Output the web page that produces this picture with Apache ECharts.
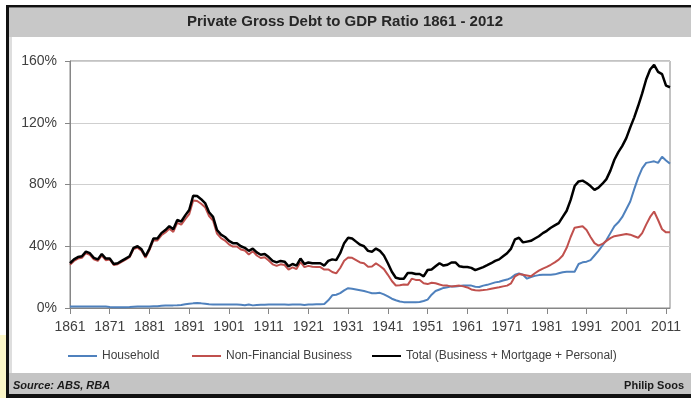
<!DOCTYPE html>
<html><head><meta charset="utf-8">
<script src="https://cdn.jsdelivr.net/npm/echarts@6/dist/echarts.min.js"></script>
<style>html,body{margin:0;padding:0;background:#fff}#c{width:691px;height:398px}</style>
</head><body><div id="c"></div>
<script>
const years = ['1861','1862','1863','1864','1865','1866','1867','1868','1869','1870',
'1871','1872','1873','1874','1875','1876','1877','1878','1879','1880',
'1881','1882','1883','1884','1885','1886','1887','1888','1889','1890',
'1891','1892','1893','1894','1895','1896','1897','1898','1899','1900',
'1901','1902','1903','1904','1905','1906','1907','1908','1909','1910',
'1911','1912','1913','1914','1915','1916','1917','1918','1919','1920',
'1921','1922','1923','1924','1925','1926','1927','1928','1929','1930',
'1931','1932','1933','1934','1935','1936','1937','1938','1939','1940',
'1941','1942','1943','1944','1945','1946','1947','1948','1949','1950',
'1951','1952','1953','1954','1955','1956','1957','1958','1959','1960',
'1961','1962','1963','1964','1965','1966','1967','1968','1969','1970',
'1971','1972','1973','1974','1975','1976','1977','1978','1979','1980',
'1981','1982','1983','1984','1985','1986','1987','1988','1989','1990',
'1991','1992','1993','1994','1995','1996','1997','1998','1999','2000',
'2001','2002','2003','2004','2005','2006','2007','2008','2009','2010',
'2011','2012'];

const xTickLabels = ['1861','1871','1881','1891','1901','1911','1921','1931','1941','1951','1961','1971','1981','1991','2001','2011'];
const yTicks = [0, 40, 80, 120, 160];

const household = [
1.0,1.0,1.0,1.0,1.0,1.0,1.0,0.9,0.9,0.9,
0.6,0.5,0.5,0.5,0.5,0.6,0.8,0.9,0.9,1.0,
1.0,1.1,1.2,1.4,1.6,1.7,1.7,1.8,2.0,2.4,
2.7,3.0,3.2,3.0,2.7,2.4,2.3,2.3,2.3,2.3,
2.3,2.2,2.2,2.1,1.8,2.3,1.7,2.0,2.1,2.1,
2.2,2.2,2.2,2.2,2.2,2.1,2.2,2.2,2.2,2.0,
2.2,2.3,2.4,2.5,2.6,5.0,8.2,8.6,9.6,11.4,
12.8,12.5,12.0,11.5,11.0,10.3,9.6,9.6,9.8,8.8,
7.5,6.0,5.0,4.2,3.8,3.7,3.7,3.8,3.9,4.5,
5.4,8.6,11.0,12.0,13.0,13.5,14.0,14.0,14.3,14.5,
14.5,14.5,13.8,13.6,14.5,15.0,15.8,16.6,17.0,17.8,
18.4,19.5,21.6,22.3,21.5,19.0,20.0,20.8,21.3,21.5,
21.5,21.6,21.8,22.5,23.2,23.5,23.5,23.5,28.5,29.6,
30.0,31.0,34.0,37.0,40.5,44.0,48.5,53.0,55.5,59.0,
64.0,69.0,77.0,84.5,90.5,94.0,94.5,95.0,94.0,98.0,
95.5,93.5];

const business = [
28.0,30.5,32.0,32.5,35.5,34.5,31.5,30.5,34.0,31.0,
31.4,27.9,28.4,29.9,31.4,32.9,38.2,39.1,37.1,32.5,
37.5,43.9,43.8,47.1,48.9,51.3,49.3,55.2,54.0,57.6,
60.8,69.7,69.3,67.5,65.3,59.6,56.7,48.2,45.2,43.7,
41.2,39.8,39.8,37.9,37.2,34.7,36.8,34.0,32.4,32.9,
30.8,28.3,27.3,28.3,27.8,24.9,26.3,25.3,29.8,26.5,
27.3,26.7,26.6,26.5,24.9,25.0,23.3,22.4,25.9,30.6,
32.7,32.5,31.0,29.5,29.0,26.7,26.9,28.9,27.2,25.2,
21.5,17.5,14.6,14.8,15.2,15.0,19.0,18.2,18.1,16.0,
15.5,16.4,16.0,15.2,14.5,14.5,14.0,14.3,14.5,14.0,
13.3,12.0,11.5,11.4,11.6,11.9,12.5,13.0,13.4,14.0,
14.5,16.0,20.5,22.0,21.5,21.0,20.5,22.5,24.2,25.5,
26.6,28.0,29.6,31.3,34.0,39.0,46.0,52.0,52.5,53.0,
50.5,46.0,42.0,40.4,41.5,43.5,45.3,46.5,47.0,47.5,
48.0,47.5,46.5,45.5,48.5,54.0,59.0,62.5,57.0,51.0,
49.0,49.0];

const total = [
29.0,31.5,33.0,33.5,36.5,35.5,32.5,31.5,35.0,32.0,
32.0,28.5,29.0,30.5,32.0,33.5,39.0,40.0,38.0,33.5,
38.5,45.0,45.0,48.5,50.5,53.0,51.0,57.0,56.0,60.0,
63.5,72.7,72.5,70.5,68.0,62.0,59.0,50.5,47.5,46.0,
43.5,42.0,42.0,40.0,39.0,37.0,38.5,36.0,34.5,35.0,
33.0,30.5,29.5,30.5,30.0,27.0,28.5,27.5,32.0,28.5,
29.5,29.0,29.0,29.0,27.5,30.5,31.5,31.0,35.5,42.0,
45.5,45.0,43.0,41.0,40.0,37.0,36.5,38.5,37.0,34.0,
29.0,23.5,19.6,19.0,19.0,22.7,22.7,22.0,22.0,20.5,
24.6,25.0,27.0,29.0,27.5,28.0,29.5,29.5,27.0,26.5,
26.5,26.0,24.5,25.5,26.5,27.7,29.0,30.5,31.5,33.5,
35.5,38.5,44.5,45.5,42.5,43.0,43.5,45.0,46.5,48.5,
50.0,52.0,53.5,55.0,59.0,63.0,70.0,79.0,82.0,82.5,
81.0,79.0,76.5,78.0,80.5,83.5,89.0,96.0,101.0,105.0,
110.0,117.0,123.5,131.0,139.0,148.0,154.5,157.5,153.0,151.5,
144.0,143.0];

const seriesNames = ['Household', 'Non-Financial Business', 'Total (Business + Mortgage + Personal)'];
const seriesColors = ['#4F81BD', '#C0504D', '#000000'];
const seriesWidths = [2, 2, 2.5];

const FONT = '"Liberation Sans", Arial, sans-serif';
const chart = echarts.init(document.getElementById('c'), null, {renderer: 'canvas'});

const legendLefts = [68, 192, 372];
chart.setOption({
  animation: false,
  backgroundColor: '#ffffff',
  grid: {left: 70, right: 21, top: 61, bottom: 90, show: true, borderColor: '#868686', borderWidth: 1},
  xAxis: {
    type: 'category', data: years, boundaryGap: false,
    axisLine: {lineStyle: {color: '#868686', width: 1}},
    axisTick: {show: true, length: 6, lineStyle: {color: '#868686'}, interval: (i, v) => xTickLabels.includes(v)},
    axisLabel: {interval: (i, v) => xTickLabels.includes(v), color: '#404040', fontSize: 14, fontFamily: FONT, margin: 12},
    splitLine: {show: false}
  },
  yAxis: {
    type: 'value', min: yTicks[0], max: yTicks[yTicks.length - 1], interval: 40,
    axisLine: {show: true, lineStyle: {color: '#868686', width: 1}},
    axisTick: {show: true, length: 5, lineStyle: {color: '#868686'}},
    axisLabel: {formatter: '{value}%', color: '#404040', fontSize: 14, fontFamily: FONT, margin: 13},
    splitLine: {show: true, lineStyle: {color: '#cfcfcf', width: 1}}
  },
  legend: seriesNames.map((n, i) => ({
    data: [n], left: legendLefts[i], top: 350, icon: 'rect', itemWidth: 29, itemHeight: 2,
    padding: 0, textStyle: {fontSize: 12, color: '#404040', fontFamily: FONT}
  })),
  series: [household, business, total].map((d, i) => ({
    name: seriesNames[i], type: 'line', data: d, showSymbol: false, symbol: 'none',
    lineStyle: {color: seriesColors[i], width: seriesWidths[i]}, itemStyle: {color: seriesColors[i]}, z: 2 + i
  })),
  graphic: [
    {type: 'rect', shape: {x: 0, y: 335, width: 6, height: 63}, style: {fill: '#fbf6c8'}, z: -1},
    {type: 'rect', shape: {x: 9, y: 7.5, width: 682, height: 29.5}, style: {fill: '#c8c8c8'}, z: -1},
    {type: 'rect', shape: {x: 9, y: 37, width: 3, height: 336}, style: {fill: '#dedede'}, z: -1},
    {type: 'rect', shape: {x: 9, y: 373, width: 682, height: 21}, style: {fill: '#c4c4c4'}, z: -1},
    {type: 'rect', shape: {x: 6, y: 5, width: 685, height: 2.5}, style: {fill: '#111111'}, z: -1},
    {type: 'rect', shape: {x: 6, y: 5, width: 3, height: 393}, style: {fill: '#111111'}, z: -1},
    {type: 'rect', shape: {x: 6, y: 394, width: 685, height: 4}, style: {fill: '#111111'}, z: -1},
    {type: 'text', x: 345, y: 22, style: {text: 'Private Gross Debt to GDP Ratio 1861 - 2012', fontSize: 15, fontWeight: 'bold', fontFamily: FONT, fill: '#262626', align: 'center', verticalAlign: 'middle'}},
    {type: 'text', x: 13, y: 386, style: {text: 'Source: ABS, RBA', fontSize: 11, fontWeight: 'bold', fontStyle: 'italic', fontFamily: FONT, fill: '#1a1a1a', align: 'left', verticalAlign: 'middle'}},
    {type: 'text', x: 684, y: 386, style: {text: 'Philip Soos', fontSize: 11, fontWeight: 'bold', fontFamily: FONT, fill: '#1a1a1a', align: 'right', verticalAlign: 'middle'}}
  ]
});
</script></body></html>
